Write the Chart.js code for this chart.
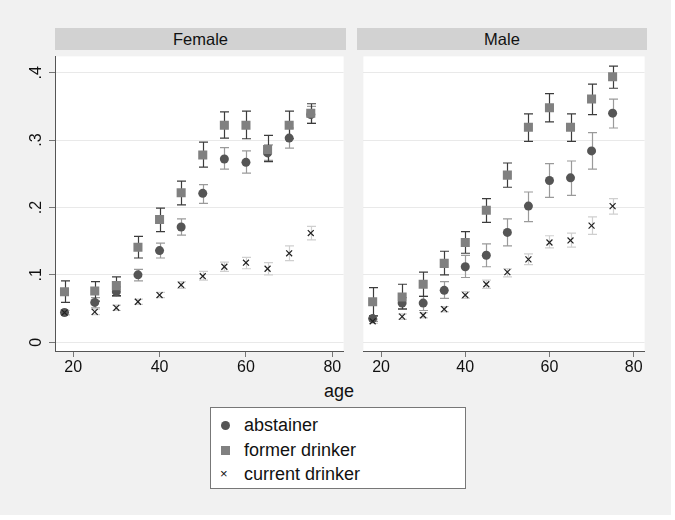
<!DOCTYPE html>
<html>
<head>
<meta charset="utf-8">
<script src="https://cdn.jsdelivr.net/npm/chart.js@4"></script>
<style>
  body { margin: 0; background: #fff; font-family: "Liberation Sans", Arial, sans-serif; }
  #page { position: absolute; left: 0; top: 0; width: 671px; height: 515px; background: #f1f1f1; }
  .strip { position: absolute; top: 28px; height: 22px; background: #d2d2d2; color: #111;
           font-size: 16.5px; line-height: 22px; text-align: center; }
  .panel { position: absolute; top: 50px; }
  #age { position: absolute; left: 300px; width: 78px; top: 381px; text-align: center; font-size: 18px; color: #111; }
  #legend { position: absolute; left: 210px; top: 407px; width: 254px; height: 80px; background: #fff;
            border: 1px solid #777; }
  .row { position: absolute; left: 0; height: 20px; font-size: 18px; line-height: 20px; color: #111; }
  .row span.t { position: absolute; left: 33px; white-space: nowrap; }
  .mk { position: absolute; }
</style>
</head>
<body>
<div id="page">
  <div class="strip" style="left:55px;width:291px;">Female</div>
  <div class="strip" style="left:357px;width:290px;">Male</div>
  <canvas id="female" class="panel" style="left:0px;" width="350" height="330"></canvas>
  <canvas id="male" class="panel" style="left:357px;" width="294" height="330"></canvas>
  <div id="age">age</div>
  <div id="legend">
    <div class="row" style="top:7px;"><div class="mk" style="left:10px;top:6px;width:9px;height:9px;border-radius:50%;background:#555;"></div><span class="t">abstainer</span></div>
    <div class="row" style="top:32px;"><div class="mk" style="left:10px;top:6px;width:9px;height:9px;background:#808080;"></div><span class="t">former drinker</span></div>
    <div class="row" style="top:56px;"><div class="mk" style="left:9px;top:0px;font-size:13px;">×</div><span class="t">current drinker</span></div>
  </div>
</div>
<script>
const ages = [18, 25, 30, 35, 40, 45, 50, 55, 60, 65, 70, 75];
const xTicks = [20, 40, 60, 80];
const yTicks = [0, 0.1, 0.2, 0.3, 0.4];
const yTickLabels = ['0', '.1', '.2', '.3', '.4'];

// Female
const fAbst   = [0.044, 0.059, 0.075, 0.100, 0.136, 0.171, 0.221, 0.272, 0.267, 0.281, 0.303, 0.338];
const fAbstLo = [0.041, 0.051, 0.068, 0.091, 0.125, 0.159, 0.206, 0.257, 0.251, 0.270, 0.288, 0.325];
const fAbstHi = [0.047, 0.066, 0.082, 0.108, 0.147, 0.183, 0.234, 0.289, 0.284, 0.293, 0.318, 0.350];
const fFormer   = [0.075, 0.076, 0.084, 0.141, 0.182, 0.222, 0.278, 0.322, 0.322, 0.286, 0.322, 0.340];
const fFormerLo = [0.059, 0.061, 0.069, 0.125, 0.164, 0.204, 0.260, 0.303, 0.302, 0.268, 0.302, 0.325];
const fFormerHi = [0.091, 0.090, 0.097, 0.157, 0.199, 0.239, 0.297, 0.342, 0.343, 0.307, 0.343, 0.354];
const fCurrent   = [0.044, 0.045, 0.051, 0.060, 0.070, 0.085, 0.098, 0.112, 0.118, 0.109, 0.132, 0.162];
const fCurrentLo = [0.041, 0.041, 0.047, 0.056, 0.066, 0.080, 0.092, 0.105, 0.109, 0.100, 0.121, 0.152];
const fCurrentHi = [0.047, 0.049, 0.055, 0.064, 0.074, 0.090, 0.105, 0.119, 0.126, 0.118, 0.143, 0.172];

// Male
const mAbst   = [0.035, 0.058, 0.058, 0.077, 0.112, 0.129, 0.163, 0.202, 0.240, 0.244, 0.284, 0.340];
const mAbstLo = [0.031, 0.050, 0.047, 0.065, 0.096, 0.112, 0.143, 0.179, 0.215, 0.218, 0.257, 0.318];
const mAbstHi = [0.039, 0.066, 0.068, 0.090, 0.129, 0.146, 0.183, 0.223, 0.265, 0.269, 0.311, 0.361];
const mFormer   = [0.060, 0.067, 0.086, 0.117, 0.148, 0.196, 0.248, 0.319, 0.348, 0.319, 0.361, 0.394];
const mFormerLo = [0.039, 0.049, 0.068, 0.100, 0.132, 0.178, 0.230, 0.298, 0.327, 0.298, 0.338, 0.377];
const mFormerHi = [0.081, 0.086, 0.104, 0.135, 0.164, 0.213, 0.266, 0.339, 0.369, 0.339, 0.383, 0.410];
const mCurrent   = [0.031, 0.038, 0.040, 0.049, 0.070, 0.086, 0.104, 0.123, 0.148, 0.151, 0.173, 0.202];
const mCurrentLo = [0.028, 0.034, 0.036, 0.045, 0.065, 0.080, 0.097, 0.115, 0.140, 0.141, 0.160, 0.190];
const mCurrentHi = [0.034, 0.042, 0.044, 0.053, 0.075, 0.092, 0.109, 0.131, 0.158, 0.162, 0.186, 0.213];

const FONT = '"Liberation Sans", Arial, sans-serif';

const plotBg = {
    id: 'plotBg',
    beforeDraw(chart) {
        const a = chart.chartArea;
        chart.ctx.save();
        chart.ctx.fillStyle = '#fff';
        chart.ctx.fillRect(a.left, a.top, a.right - a.left, a.bottom - a.top);
        chart.ctx.restore();
    }
};

// confidence interval caps, drawn under the markers
const errorBars = {
    id: 'errorBars',
    beforeDatasetsDraw(chart) {
        const ctx = chart.ctx;
        const x = chart.scales.x, y = chart.scales.y;
        chart.data.datasets.forEach(ds => {
            ctx.save();
            ctx.strokeStyle = ds.ciColor;
            ctx.lineWidth = 1.2;
            ds.lo.forEach((lo, i) => {
                const px = Math.round(x.getPixelForValue(ds.data[i].x)) + 0.5;
                const y1 = y.getPixelForValue(lo);
                const y2 = y.getPixelForValue(ds.hi[i]);
                ctx.beginPath();
                ctx.moveTo(px, y1); ctx.lineTo(px, y2);
                ctx.moveTo(px - 4.5, y1); ctx.lineTo(px + 4.5, y1);
                ctx.moveTo(px - 4.5, y2); ctx.lineTo(px + 4.5, y2);
                ctx.stroke();
            });
            ctx.restore();
        });
    }
};

// rotated y labels, like Stata
const yLabels = {
    id: 'yLabels',
    afterDraw(chart) {
        if (!chart.options.showYLabels) return;
        const ctx = chart.ctx;
        const y = chart.scales.y;
        ctx.save();
        ctx.fillStyle = '#111';
        ctx.font = '16px ' + FONT;
        ctx.textAlign = 'center';
        ctx.textBaseline = 'middle';
        yTicks.forEach((v, i) => {
            ctx.save();
            ctx.translate(37, y.getPixelForValue(v));
            ctx.rotate(-Math.PI / 2);
            ctx.fillText(yTickLabels[i], 0, 0);
            ctx.restore();
        });
        ctx.restore();
    }
};

const pts = arr => ages.map((a, i) => ({ x: a, y: arr[i] }));

function makePanel(id, abst, abstLo, abstHi, former, formerLo, formerHi, cur, curLo, curHi, isLeft) {
    new Chart(document.getElementById(id), {
        type: 'scatter',
        data: {
            datasets: [
                {
                    label: 'abstainer', data: pts(abst), lo: abstLo, hi: abstHi, ciColor: '#9a9a9a',
                    pointStyle: 'circle', pointRadius: 4.5, backgroundColor: '#555', borderColor: '#555', borderWidth: 0, order: 3
                },
                {
                    label: 'former drinker', data: pts(former), lo: formerLo, hi: formerHi, ciColor: '#3c3c3c',
                    pointStyle: 'rect', pointRadius: 6.4, backgroundColor: '#808080', borderColor: '#808080', borderWidth: 0, order: 2
                },
                {
                    label: 'current drinker', data: pts(cur), lo: curLo, hi: curHi, ciColor: '#cfcfcf',
                    pointStyle: 'crossRot', pointRadius: 4.2, backgroundColor: '#222', borderColor: '#222', borderWidth: 1.2, order: 1
                }
            ]
        },
        options: {
            responsive: false,
            animation: false,
            showYLabels: isLeft,
            layout: { padding: { left: 0, right: 4, top: 0, bottom: 0 } },
            plugins: { legend: { display: false }, tooltip: { enabled: false } },
            scales: {
                x: {
                    type: 'linear',
                    min: 15.8,
                    max: 82.6,
                    afterBuildTicks: s => { s.ticks = xTicks.map(v => ({ value: v })); },
                    afterFit: s => { s.height = 29; },
                    border: { color: '#555', width: 1 },
                    grid: { drawOnChartArea: false, tickColor: '#777', tickLength: 6 },
                    ticks: { padding: 1, color: '#111', font: { family: FONT, size: 16 } }
                },
                y: {
                    min: -0.0131,
                    max: 0.4243,
                    afterBuildTicks: s => { s.ticks = yTicks.map(v => ({ value: v })); },
                    afterFit: s => { s.width = isLeft ? 55 : 0; },
                    border: { display: isLeft, color: '#555', width: 1 },
                    grid: { color: '#e9e9e9', tickColor: '#777', tickLength: 6, drawTicks: isLeft },
                    ticks: { display: false }
                }
            }
        },
        plugins: [plotBg, errorBars, yLabels]
    });
}

makePanel('female', fAbst, fAbstLo, fAbstHi, fFormer, fFormerLo, fFormerHi, fCurrent, fCurrentLo, fCurrentHi, true);
makePanel('male', mAbst, mAbstLo, mAbstHi, mFormer, mFormerLo, mFormerHi, mCurrent, mCurrentLo, mCurrentHi, false);
</script>
</body>
</html>
